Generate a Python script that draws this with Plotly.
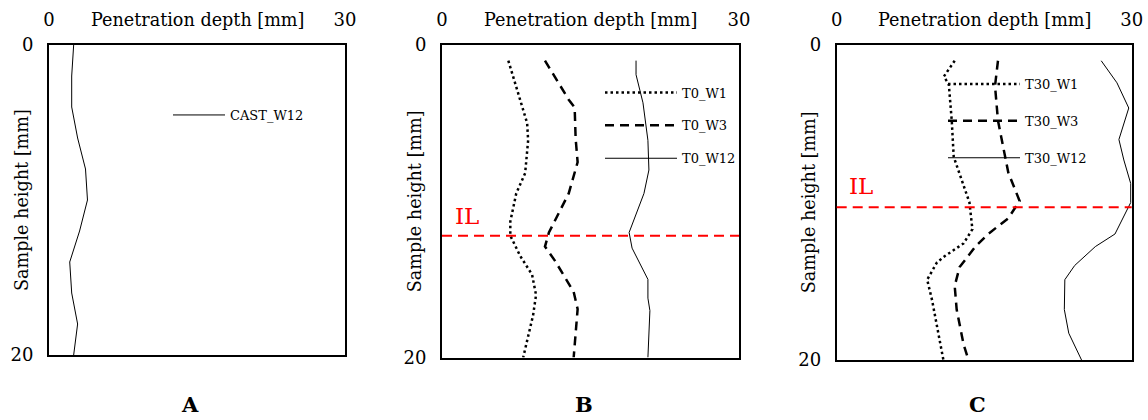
import plotly.graph_objects as go

FONT = "DejaVu Serif"

# ---------------- data ----------------
# Panel A
cast_w12_depth = [2.5, 2.3, 2.3, 2.9, 3.7, 3.9, 3.1, 2.1, 2.3, 2.9, 2.5]
cast_w12_height = [0, 2, 4, 6, 8, 10, 12, 14, 16, 18, 20]

# Panel B
t0_w1_depth = [6.7, 8.6, 8.7, 8.4, 7.5, 6.9, 6.9, 7.9, 9.1, 9.5, 9.2, 8.2]
t0_w1_height = [1, 5, 6.1, 8.2, 9.5, 11.3, 12.2, 13.5, 14.7, 16, 17.3, 20]

t0_w3_depth = [10.4, 12.8, 13.4, 13.5, 13.7, 12.8, 10.8, 10.4, 11.4, 13.3, 13.7, 13.3]
t0_w3_height = [1, 3.5, 4, 6, 7.5, 9.5, 12, 12.9, 13.8, 15.8, 16.9, 20]

t0_w12_depth = [19.6, 19.6, 20.3, 20.8, 20.9, 20.4, 18.9, 19.2, 20.8, 20.8, 21.0, 20.8]
t0_w12_height = [1, 1.9, 3.7, 6.1, 8.0, 9.5, 12.0, 13.0, 15.0, 16.2, 17.0, 20]

# Panel C
t30_w1_depth = [12.0, 10.9, 11.4, 11.7, 11.9, 12.7, 13.5, 13.8, 12.9, 11.0, 10.2, 9.2, 9.7, 10.85]
t30_w1_height = [1, 2.0, 2.5, 4.8, 7.1, 8.6, 10.0, 11.7, 12.6, 13.4, 13.8, 14.9, 16.2, 20]

t30_w3_depth = [16.4, 16.1, 16.4, 16.95, 17.45, 18.6, 17.45, 15.4, 14.1, 12.5, 12.0, 12.2, 12.9, 13.4]
t30_w3_height = [1, 2.6, 4.8, 6.5, 8.1, 9.9, 11.0, 12.0, 12.8, 14.1, 15.3, 16.8, 19.0, 20]

t30_w12_depth = [26.9, 28.5, 29.7, 28.7, 29.2, 29.9, 29.9, 28.3, 26.3, 24.2, 23.2, 23.15, 23.6, 24.9]
t30_w12_height = [1, 2.4, 4.0, 6.0, 7.3, 8.8, 10.0, 12.0, 12.8, 14.0, 14.9, 16.8, 18.3, 20]

# interface level (IL) heights
il_heights = {"B": 12.2, "C": 10.3}

x_ticks = [0, 30]
y_ticks = [0, 20]
panel_labels = ["A", "B", "C"]
x_title = "Penetration depth [mm]"
y_title = "Sample height [mm]"

# ---------------- figure ----------------
W, H = 1148, 420
boxes = [  # left, right, top, bottom in px
    (49, 345, 45, 355),
    (442, 739, 45, 357.5),
    (836.7, 1131.7, 45, 360),
]

fig = go.Figure()

dot_style = dict(color="black", width=2.5, dash="2.5px,3px")
dash_style = dict(color="black", width=2.5, dash="9px,6px")
solid_style = dict(color="black", width=1)

def add(x, y, name, line, idx, legend):
    sfx = "" if idx == 1 else str(idx)
    fig.add_trace(go.Scatter(
        x=x, y=y, name=name, mode="lines", line=line,
        xaxis="x" + sfx, yaxis="y" + sfx, legend=legend,
        legendgroup=name,
    ))

add(cast_w12_depth, cast_w12_height, "CAST_W12", solid_style, 1, "legend")
add(t0_w1_depth, t0_w1_height, "T0_W1", dot_style, 2, "legend2")
add(t0_w3_depth, t0_w3_height, "T0_W3", dash_style, 2, "legend2")
add(t0_w12_depth, t0_w12_height, "T0_W12", solid_style, 2, "legend2")
add(t30_w1_depth, t30_w1_height, "T30_W1", dot_style, 3, "legend3")
add(t30_w3_depth, t30_w3_height, "T30_W3", dash_style, 3, "legend3")
add(t30_w12_depth, t30_w12_height, "T30_W12", solid_style, 3, "legend3")

layout = dict(
    width=W, height=H,
    margin=dict(l=0, r=0, t=0, b=0, autoexpand=False),
    paper_bgcolor="white", plot_bgcolor="white",
    font=dict(family=FONT, color="black"),
    showlegend=True,
)

for i, (l, r, t, b) in enumerate(boxes, start=1):
    sfx = "" if i == 1 else str(i)
    layout["xaxis" + sfx] = dict(
        domain=[l / W, r / W], range=[0, 30], side="top",
        tickvals=x_ticks, ticktext=[str(v) for v in x_ticks],
        tickfont=dict(size=18, family=FONT), ticks="", ticklabelstandoff=10,
        showgrid=False, zeroline=False, showline=True, mirror=True, automargin=False,
        linecolor="black", linewidth=2, anchor="y" + sfx, fixedrange=True,
    )
    layout["yaxis" + sfx] = dict(
        domain=[1 - b / H, 1 - t / H], range=[20, 0],
        tickvals=y_ticks, ticktext=[str(v) for v in y_ticks],
        tickfont=dict(size=18, family=FONT), ticks="", ticklabelstandoff=10,
        showgrid=False, zeroline=False, showline=True, mirror=True, automargin=False,
        linecolor="black", linewidth=2, anchor="x" + sfx, fixedrange=True,
    )

leg_common = dict(
    bgcolor="rgba(0,0,0,0)", borderwidth=0,
    font=dict(size=13, family=FONT), xanchor="left", yanchor="top",
    traceorder="grouped",
)
layout["legend"] = dict(leg_common, x=168 / W, y=1 - 100 / H, tracegroupgap=15, itemwidth=52)
layout["legend2"] = dict(leg_common, x=600 / W, y=1 - 77.5 / H, tracegroupgap=13, itemwidth=72)
layout["legend3"] = dict(leg_common, x=943 / W, y=1 - 69 / H, tracegroupgap=17, itemwidth=72)

fig.update_layout(**layout)

annotations = []
for i, lab in enumerate(panel_labels, start=1):
    sfx = "" if i == 1 else str(i)
    annotations.append(dict(
        text=x_title, xref=f"x{sfx} domain", yref="paper", x=0.5, y=1 - 20 / H,
        showarrow=False, font=dict(size=17.6, family=FONT), xanchor="center", yanchor="middle",
    ))
    annotations.append(dict(
        text=y_title, xref=f"x{sfx} domain", yref=f"y{sfx} domain", x=0, y=0.5,
        xshift=-27, textangle=-90, showarrow=False, font=dict(size=17.6, family=FONT),
        xanchor="center", yanchor="middle",
    ))
    annotations.append(dict(
        text=f"<b>{lab}</b>", xref=f"x{sfx} domain", yref="paper", x=0.5, y=1 - 404 / H,
        xshift=-7, showarrow=False, font=dict(size=21, family=FONT),
        xanchor="center", yanchor="middle",
    ))

il_shift = {"B": 5, "C": 6}
for i, key in [(2, "B"), (3, "C")]:
    fig.add_shape(type="line", xref=f"x{i} domain", yref=f"y{i}", x0=0, x1=1,
                  y0=il_heights[key], y1=il_heights[key],
                  line=dict(color="#FF0000", width=2, dash="10px,6px"))
    annotations.append(dict(
        text="IL", xref=f"x{i}", yref=f"y{i}", x=2.5, y=il_heights[key],
        yshift=il_shift[key], yanchor="bottom", xanchor="center", showarrow=False,
        font=dict(size=23, family=FONT, color="#FF0000"),
    ))

fig.update_layout(annotations=annotations)
fig.write_html(
    "out.html",
    config={"displayModeBar": False, "staticPlot": True},
    post_script="document.body.style.margin='0px';document.body.style.padding='0px';document.body.style.overflow='hidden';",
)
